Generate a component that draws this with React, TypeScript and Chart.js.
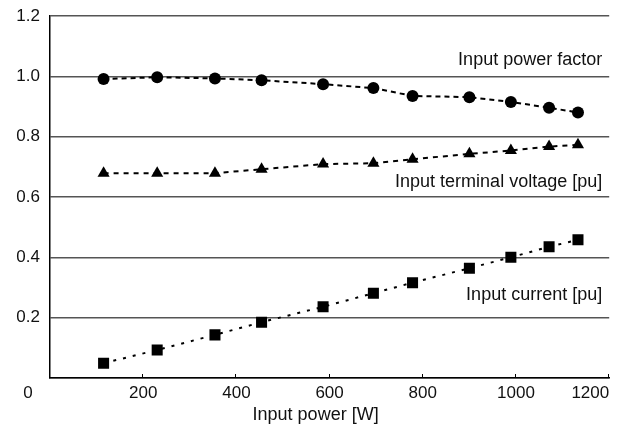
import React, { useEffect, useRef } from "react";
import { Chart, registerables } from "chart.js";

Chart.register(...registerables);

const inputPower = [115, 230, 354, 454, 586, 694, 778, 900, 989, 1071, 1133];
const powerFactor = [0.991, 0.997, 0.993, 0.987, 0.974, 0.961, 0.935, 0.931, 0.915, 0.896, 0.88];
const terminalVoltage = [0.679, 0.679, 0.679, 0.692, 0.709, 0.712, 0.725, 0.743, 0.754, 0.767, 0.773];
const inputCurrent = [0.049, 0.093, 0.143, 0.185, 0.236, 0.281, 0.316, 0.364, 0.4, 0.435, 0.458];

const xTicks = [0, 200, 400, 600, 800, 1000, 1200];
const yTicks = [0, 0.2, 0.4, 0.6, 0.8, 1.0, 1.2];

const seriesLabels = ["Input power factor", "Input terminal voltage [pu]", "Input current [pu]"];
const labelValues = [1.055, 0.65, 0.275];
const xTitle = "Input power [W]";

const FONT = "'Liberation Sans', Arial, Helvetica, sans-serif";

const annotate = {
  id: "annotate",
  afterDraw(chart: any) {
    const ctx = chart.ctx;
    const xs = chart.scales.x;
    const ys = chart.scales.y;
    const area = chart.chartArea;
    ctx.save();
    // inward tick marks on x axis
    ctx.strokeStyle = "#000";
    ctx.lineWidth = 1;
    xTicks.slice(1).forEach((v) => {
      const px = Math.round(xs.getPixelForValue(v)) - 0.5;
      ctx.beginPath();
      ctx.moveTo(px, area.bottom);
      ctx.lineTo(px, area.bottom - 4);
      ctx.stroke();
    });
    ctx.fillStyle = "#111";
    ctx.font = `18px ${FONT}`;
    ctx.textBaseline = "middle";
    ctx.textAlign = "right";
    seriesLabels.forEach((t, i) => {
      ctx.fillText(t, area.right - 7, ys.getPixelForValue(labelValues[i]));
    });
    ctx.textAlign = "center";
    ctx.fillText(xTitle, (area.left + area.right) / 2 - 14, area.bottom + 37);
    ctx.font = `17px ${FONT}`;
    ctx.fillText("0", area.left - 22, area.bottom + 15);
    ctx.restore();
  },
};

export default function App() {
  const ref = useRef<HTMLCanvasElement>(null);
  useEffect(() => {
    if (!ref.current) return;
    const mk = (vals: number[]) => inputPower.map((x, i) => ({ x, y: vals[i] }));
    const chart = new Chart(ref.current, {
      type: "line",
      data: {
        datasets: [
          {
            label: seriesLabels[0],
            data: mk(powerFactor),
            borderColor: "#000",
            backgroundColor: "#000",
            borderWidth: 2,
            borderDash: [5, 4],
            pointStyle: "circle",
            pointRadius: 6,
            pointBorderWidth: 0,
            tension: 0,
          },
          {
            label: seriesLabels[1],
            data: mk(terminalVoltage),
            borderColor: "#000",
            backgroundColor: "#000",
            borderWidth: 2,
            borderDash: [5, 5],
            pointStyle: "triangle",
            pointRadius: 7,
            pointBorderWidth: 0,
            tension: 0,
          },
          {
            label: seriesLabels[2],
            data: mk(inputCurrent),
            borderColor: "#000",
            backgroundColor: "#000",
            borderWidth: 2,
            borderDash: [3, 7],
            pointStyle: "rect",
            pointRadius: 7.8,
            pointBorderWidth: 0,
            tension: 0,
          },
        ],
      },
      options: {
        animation: false,
        responsive: false,
        maintainAspectRatio: false,
        layout: { padding: { top: 16, right: 7, left: 0, bottom: 0 } },
        plugins: { legend: { display: false }, tooltip: { enabled: false } },
        scales: {
          x: {
            type: "linear",
            min: 0,
            max: 1200,
            afterBuildTicks: (s: any) => {
              s.ticks = xTicks.map((v) => ({ value: v }));
            },
            afterFit: (s: any) => {
              s.height = 47;
              s.paddingLeft = 0;
              s.paddingRight = 0;
            },
            ticks: {
              callback: (v: any) => (v === 0 ? "" : String(v)),
              font: { family: FONT, size: 17 },
              color: "#111",
              padding: 5,
              maxRotation: 0,
              align: "inner",
            },
            grid: { display: false, drawTicks: false },
            border: { display: true, color: "#000", width: 1.5 },
          },
          y: {
            min: 0,
            max: 1.2,
            afterBuildTicks: (s: any) => {
              s.ticks = yTicks.map((v) => ({ value: v }));
            },
            afterFit: (s: any) => {
              s.width = 50;
              s.paddingTop = 0;
              s.paddingBottom = 0;
            },
            ticks: {
              callback: (v: any) => (v === 0 ? "" : Number(v).toFixed(1)),
              font: { family: FONT, size: 17 },
              color: "#111",
              padding: 10,
            },
            grid: { color: "#555", lineWidth: 1.5, drawTicks: false },
            border: { display: true, color: "#000", width: 1.5 },
          },
        },
      },
      plugins: [annotate],
    });
    return () => chart.destroy();
  }, []);
  return (
    <div style={{ position: "absolute", left: 0, top: 0, width: 617, height: 425, background: "#fff" }}>
      <canvas ref={ref} width={617} height={425} style={{ width: 617, height: 425 }} />
    </div>
  );
}
